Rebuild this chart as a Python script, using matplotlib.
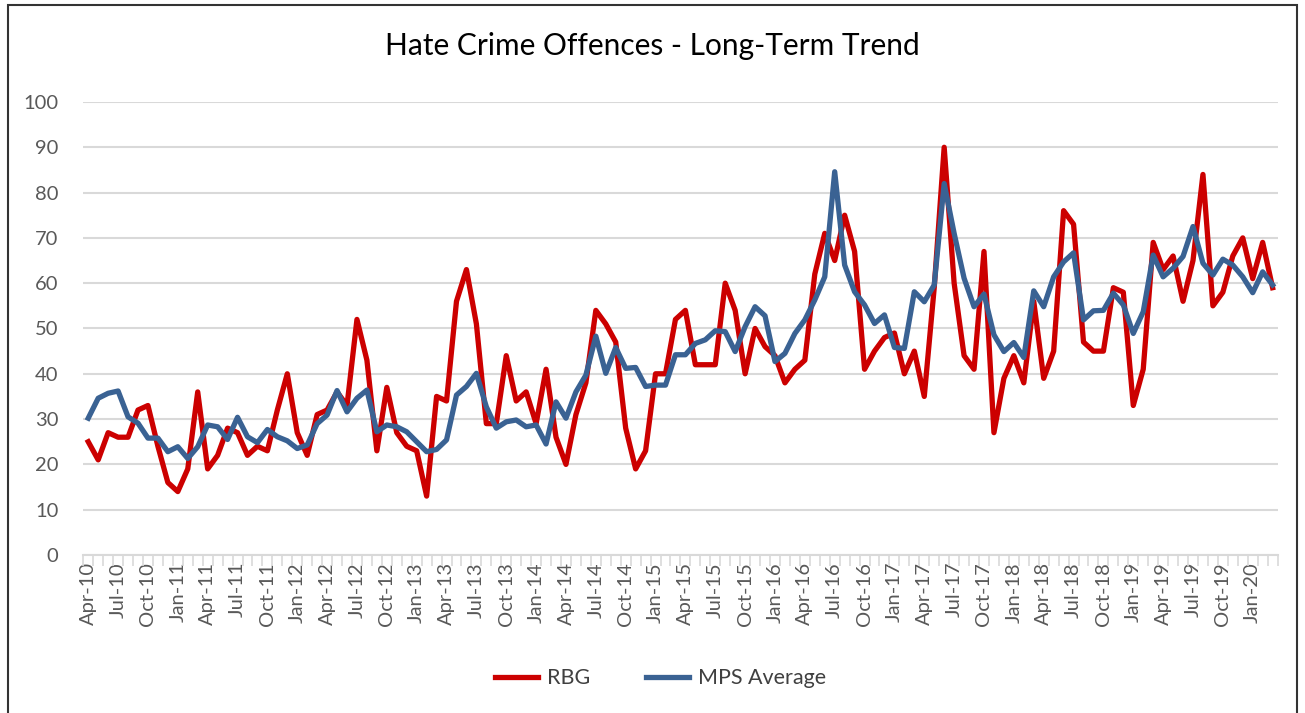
import matplotlib
matplotlib.use("Agg")
import matplotlib.pyplot as plt
import pandas as pd
from matplotlib.patches import Rectangle
from matplotlib.ticker import FixedLocator, MultipleLocator

plt.rcParams["font.family"] = ["Lato", "DejaVu Sans"]

# monthly categories Apr-10 .. Mar-20
months = pd.date_range("2010-04-01", periods=120, freq="MS").strftime("%b-%y").tolist()

rbg = [
    25, 21, 27, 26, 26, 32, 33, 24, 16, 14, 19, 36,
    19, 22, 28, 27, 22, 24, 23, 32, 40, 27, 22, 31,
    32, 36, 33, 52, 43, 23, 37, 27, 24, 23, 13, 35,
    34, 56, 63, 51, 29, 29, 44, 34, 36, 29, 41, 26,
    20, 31, 38, 54, 51, 47, 28, 19, 23, 40, 40, 52,
    54, 42, 42, 42, 60, 54, 40, 50, 46, 44, 38, 41,
    43, 62, 71, 65, 75, 67, 41, 45, 48, 49, 40, 45,
    35, 59, 90, 60, 44, 41, 67, 27, 39, 44, 38, 56,
    39, 45, 76, 73, 47, 45, 45, 59, 58, 33, 41, 69,
    63, 66, 56, 65, 84, 55, 58, 66, 70, 61, 69, 59,
]

mps_avg = [
    30.2, 34.6, 35.7, 36.2, 30.5, 29.1, 25.8, 25.8, 22.8, 23.9, 21.3, 23.9,
    28.7, 28.3, 25.5, 30.4, 26.1, 24.8, 27.7, 26.1, 25.2, 23.5, 24.3, 29.0,
    30.9, 36.3, 31.6, 34.6, 36.4, 27.2, 28.7, 28.3, 27.2, 25.0, 22.8, 23.3,
    25.4, 35.3, 37.2, 40.1, 32.7, 28.0, 29.4, 29.8, 28.3, 28.7, 24.5, 33.8,
    30.2, 36.0, 39.7, 48.3, 40.1, 45.8, 41.2, 41.4, 37.2, 37.5, 37.5, 44.2,
    44.2, 46.7, 47.5, 49.5, 49.3, 44.9, 50.4, 54.8, 52.8, 42.7, 44.5, 48.9,
    51.9, 56.3, 61.4, 84.6, 64.0, 58.1, 55.2, 51.1, 53.0, 45.8, 45.6, 58.1,
    55.9, 59.6, 82.0, 71.0, 61.1, 54.8, 57.6, 48.6, 44.9, 46.9, 43.6, 58.3,
    54.8, 61.4, 64.7, 66.7, 51.9, 53.9, 54.0, 57.8, 55.2, 48.9, 53.7, 66.2,
    61.4, 63.3, 65.9, 72.5, 64.4, 61.8, 65.3, 64.0, 61.4, 57.9, 62.5, 59.6,
]

RED = "#CC0000"
BLUE = "#3A6293"
GREY_TXT = "#595959"

fig = plt.figure(figsize=(13.05, 7.13), dpi=100)
ax = fig.add_axes([0.0638, 0.2216, 0.9152, 0.6354])

x = list(range(len(months)))
ax.plot(x, rbg, color=RED, lw=3.8, label="RBG", zorder=3)
ax.plot(x, mps_avg, color=BLUE, lw=3.8, label="MPS Average", zorder=4)

ax.set_xlim(-0.5, len(months) - 0.5)
ax.set_ylim(0, 100)
ax.yaxis.set_major_locator(MultipleLocator(10))
ax.grid(axis="y", color="#D9D9D9", lw=1.5, zorder=0)
ax.set_axisbelow(True)

# month labels every quarter, tick marks at category boundaries
ax.set_xticks(x[::3])
ax.set_xticklabels(months[::3], rotation=90, fontsize=14.5, color=GREY_TXT)
ax.tick_params(axis="x", which="major", length=0, pad=5)
ax.xaxis.set_minor_locator(FixedLocator([i - 0.5 for i in range(len(months) + 1)]))
ax.tick_params(axis="x", which="minor", length=8, width=1.2, color="#D9D9D9")
ax.tick_params(axis="y", length=0, labelsize=14.5, labelcolor=GREY_TXT, pad=18)

for s in ("top", "right", "left"):
    ax.spines[s].set_visible(False)
ax.spines["bottom"].set_color("#D9D9D9")
ax.spines["bottom"].set_linewidth(1.5)

fig.suptitle("Hate Crime Offences - Long-Term Trend", x=0.5, y=0.955, fontsize=21.5)

fig.legend(loc="center", bbox_to_anchor=(0.506, 0.049), ncol=2, frameon=False,
           fontsize=15.5, handlelength=2.0, handletextpad=0.4, columnspacing=2.6,
           labelcolor="#404040")

# outer chart border
fig.patches.append(Rectangle((8 / 1305, -0.1), 1289 / 1305, 1.1 - 5 / 713,
                             transform=fig.transFigure, fill=False,
                             edgecolor="#333333", lw=1.5))

fig.savefig("out.png", dpi=100)
